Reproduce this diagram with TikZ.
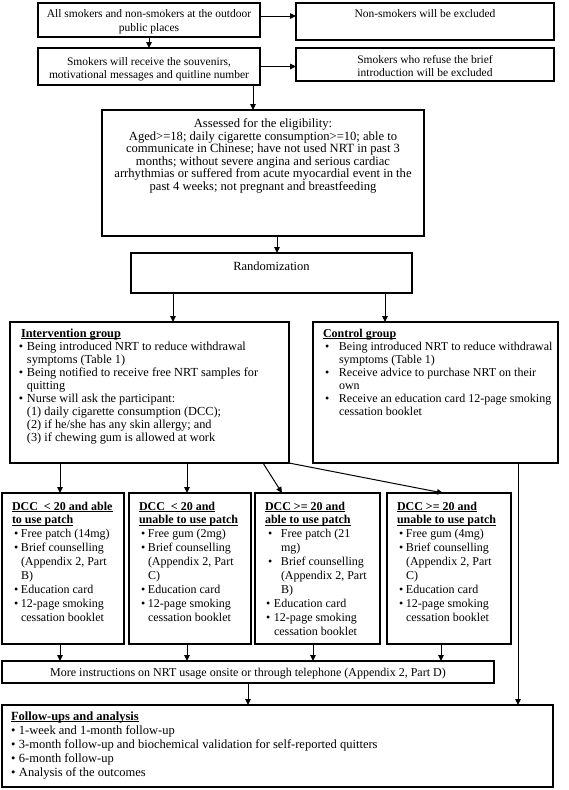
\documentclass[tikz,border=0pt]{standalone}
\usepackage{fontspec}
\setmainfont{Liberation Serif}
\usetikzlibrary{arrows.meta}
\newcommand{\mystrut}{\rule{0pt}{9pt}}
\newcommand{\ulx}[1]{\setbox0\hbox{#1}\rlap{\rule[-1.6pt]{\wd0}{0.7pt}}\box0}
% width, height, top gap, font size, baselineskip, content
\newcommand{\bx}[6]{\parbox[c][#2pt][t]{#1pt}{\fontsize{#4}{#5}\selectfont\lineskiplimit=-100pt\parskip=0pt\parindent=0pt\vspace*{#3pt}#6}}
\newcommand{\Lt}[2]{\noindent\hspace*{#1pt}\mystrut\ulx{\textbf{#2}}\par}
\newcommand{\Lb}[3]{\noindent\hspace*{#1pt}\makebox[\dimexpr#2pt-#1pt\relax][l]{\textbullet}\mbox{#3}\par}
\newcommand{\Lc}[2]{\noindent\hspace*{#1pt}\mbox{#2}\par}
\begin{document}
\begin{tikzpicture}[x=1pt,y=-1pt,
  box/.style={draw, line width=1.2pt, inner sep=0pt, outer sep=0pt, anchor=north west},
  arr/.style={-{Triangle[length=6pt,width=5.5pt]}, line width=1pt}]
\useasboundingbox (0,0) rectangle (568,790);
% x positions of connectors
\coordinate (xB) at (253,0);
\coordinate (xE) at (277,0);
\coordinate (xR1) at (173,0);
\coordinate (xR2) at (385,0);
\coordinate (xD1) at (60,0);
\coordinate (xD2) at (187,0);
\coordinate (xS3) at (263,0);
\coordinate (xT3) at (282,0);
\coordinate (xT4) at (443,0);
\coordinate (xM3) at (313,0);
\coordinate (xM4) at (441,0);
\coordinate (xC) at (518,0);

\node[box] (b1) at (38,3) {\bx{222}{34}{5}{11.5}{14}{\centering\mystrut All smokers and non-smokers at the outdoor\\ public places}};
\node[box] (ex1) at (296,3) {\bx{258}{37}{5}{11.5}{13}{\centering\mystrut Non-smokers will be excluded}};
\node[box] (b2) at (38,48) {\bx{222}{37}{8}{11.5}{13.2}{\centering\mystrut Smokers will receive the souvenirs,\\ motivational messages and quitline number}};
\node[box] (ex2) at (296,48) {\bx{258}{33}{6}{11.5}{13}{\centering\mystrut Smokers who refuse the brief\\ introduction will be excluded}};
\node[box] (elig) at (102,110) {\bx{322}{126}{8.5}{12.6}{12.6}{\centering\mystrut Assessed for the eligibility:\\
Aged>=18; daily cigarette consumption>=10; able to\\
communicate in Chinese; have not used NRT in past 3\\
months; without severe angina and serious cardiac\\
arrhythmias or suffered from acute myocardial event in the\\
past 4 weeks; not pregnant and breastfeeding}};
\node[box] (rand) at (131,253) {\bx{281}{40}{8}{12.5}{13}{\centering\mystrut Randomization}};

\node[box] (int) at (10,322) {\bx{279}{141}{6}{12.3}{13}{%
\Lt{11}{Intervention group}
\Lb{9}{17}{Being introduced NRT to reduce withdrawal}
\Lc{17}{symptoms (Table 1)}
\Lb{9}{17}{Being notified to receive free NRT samples for}
\Lc{17}{quitting}
\Lb{9}{17}{Nurse will ask the participant:}
\Lc{17}{(1) daily cigarette consumption (DCC);}
\Lc{17}{(2) if he/she has any skin allergy; and}
\Lc{17}{(3) if chewing gum is allowed at work}}};

\node[box] (ctl) at (313,322) {\bx{245}{141}{6}{12}{13}{%
\Lt{10}{Control group}
\Lb{12}{26}{Being introduced NRT to reduce withdrawal}
\Lc{26}{symptoms (Table 1)}
\Lb{12}{26}{Receive advice to purchase NRT on their}
\Lc{26}{own}
\Lb{12}{26}{Receive an education card 12-page smoking}
\Lc{26}{cessation booklet}}};

\node[box] (d1) at (2,493) {\bx{122}{151}{8}{12}{13.9}{%
\Lt{10}{DCC \ < 20 and able}
\Lt{10}{to use patch}
\Lb{12}{19}{Free patch (14mg)}
\Lb{12}{19}{Brief counselling}
\Lc{19}{(Appendix 2, Part}
\Lc{19}{B)}
\Lb{12}{19}{Education card}
\Lb{12}{19}{12-page smoking}
\Lc{19}{cessation booklet}}};

\node[box] (d2) at (129,493) {\bx{122}{151}{8}{12}{13.9}{%
\Lt{10}{DCC \ < 20 and}
\Lt{10}{unable to use patch}
\Lb{12}{19}{Free gum (2mg)}
\Lb{12}{19}{Brief counselling}
\Lc{19}{(Appendix 2, Part}
\Lc{19}{C)}
\Lb{12}{19}{Education card}
\Lb{12}{19}{12-page smoking}
\Lc{19}{cessation booklet}}};

\node[box] (d3) at (255,493) {\bx{125}{151}{8}{12}{13.9}{%
\Lt{10}{DCC >= 20 and}
\Lt{10}{able to use patch}
\Lb{13}{26}{Free patch (21}
\Lc{26}{mg)}
\Lb{13}{26}{Brief counselling}
\Lc{26}{(Appendix 2, Part}
\Lc{26}{B)}
\Lb{11}{19}{Education card}
\Lb{11}{19}{12-page smoking}
\Lc{19}{cessation booklet}}};

\node[box] (d4) at (387,493) {\bx{124}{151}{8}{12}{13.9}{%
\Lt{10}{DCC >= 20 and}
\Lt{10}{unable to use patch}
\Lb{12}{19}{Free gum (4mg)}
\Lb{12}{19}{Brief counselling}
\Lc{19}{(Appendix 2, Part}
\Lc{19}{C)}
\Lb{12}{19}{Education card}
\Lb{12}{19}{12-page smoking}
\Lc{19}{cessation booklet}}};

\node[box] (more) at (2,661) {\bx{492}{22}{6}{12}{13}{\centering\mystrut More instructions on NRT usage onsite or through telephone (Appendix 2, Part D)}};

\node[box] (fu) at (2,705) {\bx{551}{82}{6}{12.5}{14.2}{%
\Lt{9}{Follow-ups and analysis}
\Lb{9}{17}{1-week and 1-month follow-up}
\Lb{9}{17}{3-month follow-up and biochemical validation for self-reported quitters}
\Lb{9}{17}{6-month follow-up}
\Lb{9}{17}{Analysis of the outcomes}}};

\draw[arr] ([yshift=4pt]b1.east) -- ([yshift=4pt]b1.east -| ex1.west);
\draw[arr] (b1.south) -- (b2.north);
\draw[arr] (b2.east) -- (b2.east -| ex2.west);
\draw[arr] (b2.south -| xB) -- (elig.north -| xB);
\draw[arr] (elig.south -| xE) -- (rand.north -| xE);
\draw[arr] (rand.south -| xR1) -- (int.north -| xR1);
\draw[arr] (rand.south -| xR2) -- (ctl.north -| xR2);
\draw[arr] (int.south -| xD1) -- (d1.north -| xD1);
\draw[arr] (int.south -| xD2) -- (d2.north -| xD2);
\draw[arr] (int.south -| xS3) -- (d3.north -| xT3);
\draw[arr] (int.south east) -- (d4.north -| xT4);
\draw[arr] (ctl.south -| xC) -- (fu.north -| xC);
\draw[arr] (d1.south -| xD1) -- (more.north -| xD1);
\draw[arr] (d2.south -| xD2) -- (more.north -| xD2);
\draw[arr] (d3.south -| xM3) -- (more.north -| xM3);
\draw[arr] (d4.south -| xM4) -- (more.north -| xM4);
\draw[arr] (more.south) -- (fu.north -| more.south);
\end{tikzpicture}
\end{document}
